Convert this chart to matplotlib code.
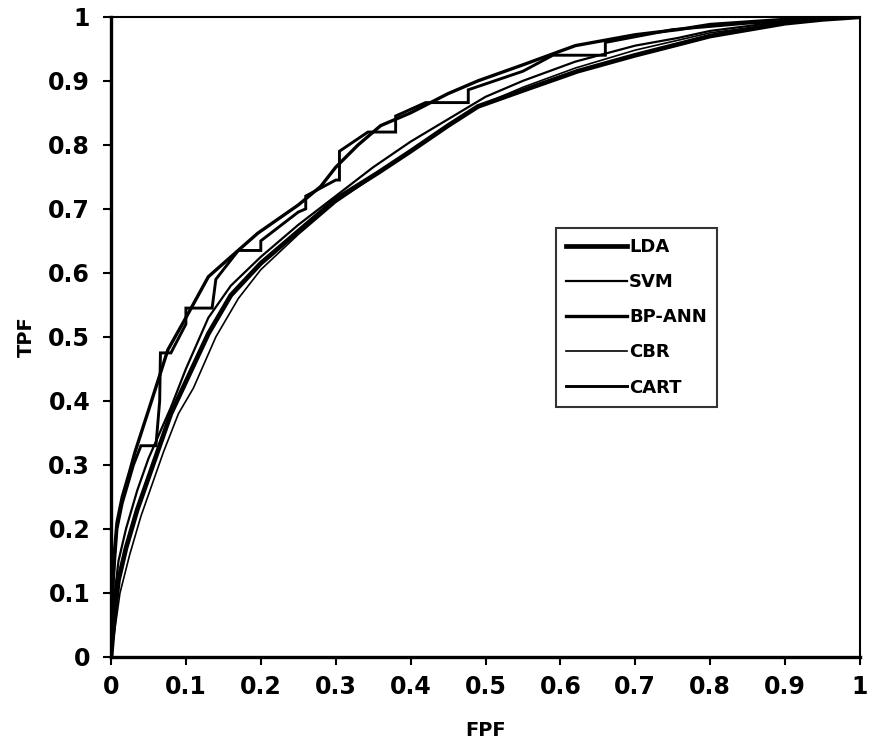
import matplotlib
matplotlib.use("Agg")
import matplotlib.pyplot as plt

# ---- data ----
lda_x = [0, 0.005, 0.01, 0.02, 0.035, 0.05, 0.065, 0.08, 0.1, 0.13, 0.16, 0.2, 0.25, 0.3, 0.356, 0.4, 0.45, 0.49, 0.55, 0.623, 0.7, 0.757, 0.8, 0.85, 0.9, 0.95, 1]
lda_y = [0, 0.07, 0.12, 0.17, 0.23, 0.28, 0.33, 0.38, 0.43, 0.505, 0.565, 0.615, 0.665, 0.715, 0.756, 0.79, 0.83, 0.86, 0.885, 0.915, 0.94, 0.957, 0.97, 0.98, 0.99, 0.996, 1]

svm_x = [0, 0.004, 0.01, 0.02, 0.035, 0.05, 0.065, 0.08, 0.1, 0.13, 0.16, 0.2, 0.25, 0.3, 0.35, 0.4, 0.45, 0.5, 0.55, 0.62, 0.7, 0.757, 0.8, 0.9, 1]
svm_y = [0, 0.09, 0.15, 0.2, 0.26, 0.31, 0.35, 0.39, 0.45, 0.53, 0.58, 0.625, 0.675, 0.72, 0.765, 0.805, 0.84, 0.875, 0.9, 0.93, 0.955, 0.967, 0.978, 0.993, 1]

bpann_x = [0, 0.002, 0.005, 0.008, 0.015, 0.025, 0.032, 0.05, 0.076, 0.1, 0.13, 0.16, 0.196, 0.25, 0.28, 0.3, 0.33, 0.36, 0.4, 0.45, 0.49, 0.55, 0.62, 0.7, 0.757, 0.8, 0.9, 1]
bpann_y = [0, 0.1, 0.17, 0.21, 0.25, 0.29, 0.32, 0.385, 0.48, 0.53, 0.594, 0.625, 0.662, 0.706, 0.735, 0.765, 0.8, 0.83, 0.85, 0.88, 0.9, 0.925, 0.955, 0.972, 0.98, 0.988, 0.996, 1]

cbr_x = [0, 0.006, 0.012, 0.025, 0.04, 0.055, 0.07, 0.09, 0.11, 0.14, 0.17, 0.2, 0.25, 0.3, 0.35, 0.4, 0.45, 0.5, 0.55, 0.62, 0.7, 0.8, 0.9, 1]
cbr_y = [0, 0.05, 0.1, 0.16, 0.22, 0.27, 0.32, 0.38, 0.42, 0.5, 0.56, 0.605, 0.66, 0.71, 0.75, 0.79, 0.83, 0.865, 0.89, 0.92, 0.948, 0.975, 0.99, 1]

cart_x = [0, 0.003, 0.008, 0.015, 0.025, 0.03, 0.04, 0.06, 0.065, 0.066, 0.08, 0.1, 0.1, 0.135, 0.14, 0.17, 0.2, 0.2, 0.25, 0.26, 0.26, 0.3, 0.305, 0.305, 0.343, 0.38, 0.38, 0.42, 0.477, 0.477, 0.55, 0.59, 0.66, 0.66, 0.75, 0.85, 1]
cart_y = [0, 0.12, 0.2, 0.24, 0.28, 0.3, 0.33, 0.33, 0.40, 0.475, 0.475, 0.52, 0.545, 0.545, 0.59, 0.635, 0.635, 0.65, 0.695, 0.70, 0.72, 0.745, 0.745, 0.79, 0.82, 0.82, 0.845, 0.866, 0.866, 0.886, 0.915, 0.94, 0.94, 0.96, 0.98, 0.99, 1]

labels = ["LDA", "SVM", "BP-ANN", "CBR", "CART"]
x_ticks = [0, 0.1, 0.2, 0.3, 0.4, 0.5, 0.6, 0.7, 0.8, 0.9, 1]
tick_labels = ["0", "0.1", "0.2", "0.3", "0.4", "0.5", "0.6", "0.7", "0.8", "0.9", "1"]

plt.rcParams['font.family'] = ['DejaVu Sans']
plt.rcParams['font.weight'] = 'bold'

fig = plt.figure(figsize=(8.74, 7.47), dpi=100)
ax = fig.add_axes([0.127, 0.1205, 0.857, 0.857])

series = [(lda_x, lda_y, 3.4), (svm_x, svm_y, 1.6), (bpann_x, bpann_y, 2.4), (cbr_x, cbr_y, 1.2), (cart_x, cart_y, 2.1)]
for (xs, ys, lw), lab in zip(series, labels):
    ax.plot(xs, ys, color='black', lw=lw, label=lab, solid_joinstyle='miter')

ax.set_xlim(0, 1)
ax.set_ylim(0, 1)
ax.set_xticks(x_ticks)
ax.set_xticklabels(tick_labels)
ax.set_yticks(x_ticks)
ax.set_yticklabels(tick_labels)
ax.tick_params(axis='both', direction='out', length=6, width=1.5, labelsize=17, colors='black')
ax.tick_params(axis='y', pad=9)
ax.tick_params(axis='x', pad=7)
for lab in ax.get_xticklabels() + ax.get_yticklabels():
    lab.set_fontweight('bold')

for side in ['left', 'bottom']:
    ax.spines[side].set_linewidth(2.4)
for side in ['top', 'right']:
    ax.spines[side].set_linewidth(1.5)

ax.set_xlabel("FPF", fontsize=14, fontweight='bold', labelpad=16)
ax.set_ylabel("TPF", fontsize=14, fontweight='bold', labelpad=9)

leg = ax.legend(loc='upper left', bbox_to_anchor=(0.594, 0.670), borderaxespad=0,
                fontsize=13, frameon=True, fancybox=False, edgecolor='black',
                handlelength=3.4, handletextpad=0.1, labelspacing=0.95, borderpad=0.55)
leg.get_frame().set_linewidth(1.5)
for t in leg.get_texts():
    t.set_fontweight('bold')

fig.savefig("out.png", dpi=100, facecolor='white')
